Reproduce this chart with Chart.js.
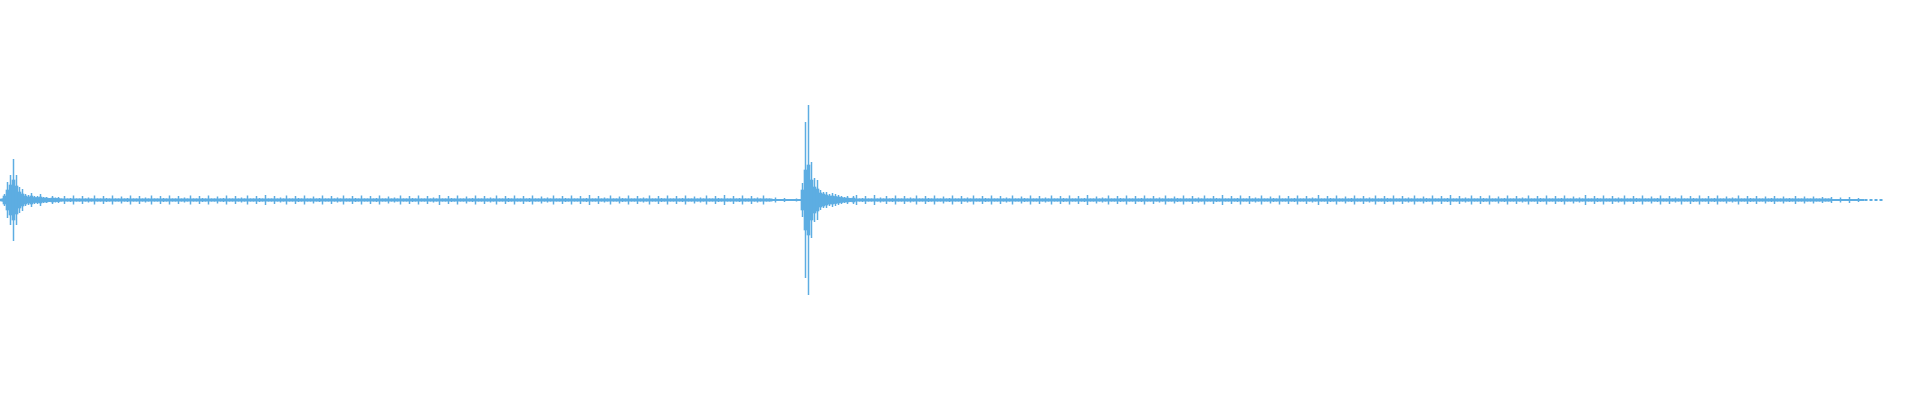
<!DOCTYPE html>
<html>
<head>
<meta charset="utf-8">
<script src="https://cdn.jsdelivr.net/npm/chart.js@4/dist/chart.umd.min.js"></script>
<style>
  html, body { margin: 0; padding: 0; background: #ffffff; }
  #wave { display: block; }
</style>
</head>
<body>
<canvas id="wave" width="1920" height="400"></canvas>
<script>
// waveform peak amplitudes, one value per 3px column (half-pixel units, range +-400)
const COLUMNS = 640;
const WAVE_COLOR = '#5DADE2';

// first onset: peaks and the denser core under them
const attack1 = [2, 12, 36, 50, 82, 50, 26, 22, 12, 10, 14, 8, 8, 12, 6, 6, 4, 8, 5, 6];
const core1 = [2, 8, 20, 30, 40, 28, 16, 12, 8, 6, 8, 5, 5, 6, 4, 4, 3, 4, 3, 3];

// steady ticking after the first onset
const quiet1 = [
  3, 8, 3, 4, 9, 3, 3, 8, 3, 5,
  3, 9, 3, 3, 8, 4, 3, 9, 3, 3,
  7, 3, 4, 9, 3, 3, 8, 3, 5, 3,
  9, 3, 3, 8, 4, 3, 9, 3, 3, 8,
  3, 5, 3, 9, 3, 3, 8, 4, 3, 9,
  3, 3, 7, 3, 4, 9, 3, 3, 8, 3,
  5, 3, 9, 3, 3, 8, 4, 3, 10, 3,
  3, 8, 3, 5, 3, 9, 3, 3, 8, 4,
  3, 9, 3, 3, 7, 3, 4, 9, 3, 3,
  8, 3, 5, 3, 9, 3, 3, 8, 4, 3,
  9, 3, 3, 8, 3, 4, 9, 3, 3, 7,
  3, 5, 3, 9, 3, 3, 8, 4, 3, 9,
  3, 3, 8, 3, 5, 3, 10, 3, 3, 8,
  4, 3, 9, 3, 3, 7, 3, 4, 9, 3,
  3, 8, 3, 5, 3, 9, 3, 3, 8, 4,
  3, 9, 3, 3, 8, 3, 4, 9, 3, 3,
  7, 3, 5, 3, 9, 3, 3, 8, 4, 3,
  9, 3, 3, 8, 3, 4, 10, 3, 3, 8,
  3, 5, 3, 9, 3, 3, 7, 4, 3, 9,
  3, 3, 8, 3, 5, 3, 9, 3, 3, 8,
  4, 3, 9, 3, 3, 8, 3, 4, 9, 3,
  3, 7, 3, 5, 3, 9, 3, 3, 8, 4,
  3, 10, 3, 3, 8, 3, 4, 9, 3, 3,
  8, 3, 5, 3, 9, 3, 3
];

// quieter stretch just before the second onset
const preEvent = [2, 5, 2, 2, 4, 2, 2, 2, 3, 2];

// second (loud) onset: peaks and core
const attack2 = [34, 156, 190, 76, 44, 40, 20, 16, 16, 12, 14, 12, 10, 8, 6, 8, 4, 8];
const core2 = [20, 60, 70, 40, 26, 22, 14, 12, 10, 8, 8, 7, 6, 5, 4, 4, 3, 4];

// steady ticking after the second onset
const quiet2 = [
  10, 3, 4, 8, 3, 3, 10, 3, 5, 3,
  8, 3, 4, 9, 3, 3, 8, 3, 5, 3,
  9, 3, 3, 8, 4, 3, 9, 3, 3, 7,
  3, 4, 9, 3, 3, 8, 3, 5, 3, 9,
  3, 3, 8, 4, 3, 9, 3, 3, 8, 3,
  5, 3, 9, 3, 3, 7, 4, 3, 9, 3,
  3, 8, 3, 5, 3, 9, 3, 3, 8, 4,
  3, 9, 3, 3, 8, 3, 4, 10, 3, 3,
  7, 3, 5, 3, 9, 3, 3, 8, 4, 3,
  9, 3, 3, 8, 3, 4, 9, 3, 3, 8,
  3, 5, 3, 9, 3, 3, 7, 4, 3, 9,
  3, 3, 8, 3, 5, 3, 9, 3, 3, 8,
  4, 3, 10, 3, 3, 8, 3, 4, 9, 3,
  3, 8, 3, 5, 3, 9, 3, 3, 7, 4,
  3, 9, 3, 3, 8, 3, 4, 9, 3, 3,
  8, 3, 5, 3, 10, 3, 3, 8, 4, 3,
  9, 3, 3, 7, 3, 4, 9, 3, 3, 8,
  3, 5, 3, 9, 3, 3, 8, 4, 3, 9,
  3, 3, 8, 3, 5, 3, 9, 3, 3, 7,
  4, 3, 9, 3, 3, 8, 3, 4, 10, 3,
  3, 8, 3, 5, 3, 9, 3, 3, 8, 4,
  3, 9, 3, 3, 7, 3, 4, 9, 3, 3,
  8, 3, 5, 3, 9, 3, 3, 8, 4, 3,
  9, 3, 3, 8, 3, 4, 9, 3, 3, 7,
  3, 5, 3, 10, 3, 3, 8, 4, 3, 9,
  3, 3, 8, 3, 5, 3, 9, 3, 3, 8,
  4, 3, 9, 3, 3, 7, 3, 4, 9, 3,
  3, 8, 3, 5, 3, 9, 3, 3, 8, 4,
  3, 9, 3, 3, 8, 3, 4, 9, 3, 3,
  7, 3, 5, 3, 9, 3, 3, 8, 4, 3,
  8, 3, 3, 7, 3, 4, 8, 3, 3, 7,
  3, 4, 3, 8, 3, 3, 7, 3, 3, 7,
  3, 3, 6, 3, 3
];

// fade-out at the end of the recording
const tail = [6, 2, 2, 5, 2, 2, 6, 2, 2, 4, 2];

// noise floor band: [first column, last column, thickness px, dashed]
const floorSpans = [
  [0, 257, 3, false],
  [257, 267, 2, false],
  [267, 610, 3, false],
  [610, 621, 2, false],
  [621, 627, 2, true]
];

const peaks = [...attack1, ...quiet1, ...preEvent, ...attack2, ...quiet2, ...tail];
const cores = [...core1, ...Array(quiet1.length + preEvent.length).fill(null), ...core2];
const labels = Array.from({ length: COLUMNS }, (_, i) => i);
const band = a => (a ? [-a, a] : null);

const floorSets = floorSpans.map(([from, to, width, dashed]) => ({
  type: 'line',
  data: [{ x: from, y: 0 }, { x: to, y: 0 }],
  borderColor: WAVE_COLOR,
  borderWidth: width,
  borderDash: dashed ? [3, 2] : [],
  borderCapStyle: 'butt',
  pointRadius: 0
}));

new Chart(document.getElementById('wave'), {
  type: 'bar',
  data: {
    labels: labels,
    datasets: [
      {
        data: cores.map(band),
        backgroundColor: WAVE_COLOR,
        borderWidth: 0,
        grouped: false,
        barPercentage: 1,
        categoryPercentage: 1
      },
      {
        data: peaks.map(band),
        backgroundColor: WAVE_COLOR,
        borderWidth: 0,
        grouped: false,
        barPercentage: 0.5,
        categoryPercentage: 1
      },
      ...floorSets
    ]
  },
  options: {
    responsive: false,
    animation: false,
    layout: { padding: 0 },
    plugins: {
      legend: { display: false },
      tooltip: { enabled: false }
    },
    scales: {
      x: { display: false },
      y: { display: false, min: -400, max: 400 }
    }
  }
});
</script>
</body>
</html>
